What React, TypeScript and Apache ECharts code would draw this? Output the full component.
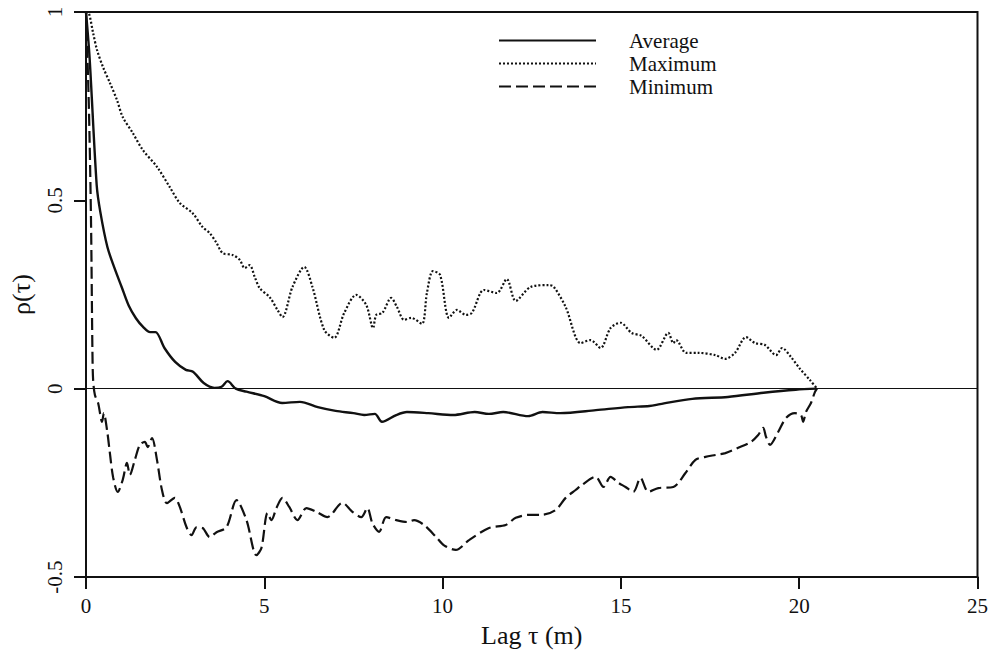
import React, { useEffect, useRef } from "react";
import * as echarts from "echarts";

// Lag tau (m) and rho(tau) for each curve
const avgX = [0, 0.1, 0.3, 0.4, 0.6, 0.8, 1.0, 1.2, 1.4, 1.6, 1.8, 1.95, 2.2, 2.5, 2.8, 3.0, 3.3, 3.6, 3.8, 3.97, 4.2, 4.5, 5.0, 5.5, 6.0, 6.5, 7.0, 7.5, 7.8, 8.1, 8.3, 8.7, 9.0, 9.6, 10.3, 10.9, 11.3, 11.7, 12.4, 12.8, 13.3, 14.3, 15.2, 15.8, 16.1, 17.0, 18.0, 19.0, 19.9, 20.5];
const avgY = [1.0, 0.88, 0.54, 0.47, 0.376, 0.32, 0.27, 0.22, 0.187, 0.164, 0.15, 0.15, 0.108, 0.071, 0.05, 0.045, 0.015, 0.002, 0.005, 0.02, 0.0, -0.008, -0.02, -0.038, -0.035, -0.049, -0.059, -0.065, -0.07, -0.067, -0.088, -0.07, -0.062, -0.065, -0.07, -0.062, -0.067, -0.062, -0.073, -0.062, -0.065, -0.057, -0.049, -0.046, -0.041, -0.027, -0.022, -0.011, -0.003, 0.0];

const maxX = [0, 0.08, 0.2, 0.31, 0.48, 0.67, 0.87, 1.03, 1.31, 1.59, 1.99, 2.35, 2.63, 2.99, 3.27, 3.47, 3.66, 3.83, 4.11, 4.31, 4.45, 4.59, 4.73, 4.87, 5.15, 5.37, 5.51, 5.79, 6.12, 6.35, 6.68, 6.96, 7.24, 7.58, 7.86, 8.05, 8.14, 8.31, 8.56, 8.72, 8.92, 9.12, 9.42, 9.56, 9.73, 9.93, 10.18, 10.4, 10.65, 10.82, 11.16, 11.52, 11.8, 12.05, 12.47, 12.98, 13.12, 13.45, 13.87, 14.15, 14.43, 14.71, 14.99, 15.3, 15.58, 16.0, 16.33, 16.47, 16.55, 16.83, 17.17, 17.65, 17.92, 18.2, 18.51, 18.76, 19.04, 19.35, 19.52, 19.77, 20.02, 20.3, 20.5];
const maxY = [1.0, 0.997, 0.944, 0.899, 0.853, 0.812, 0.766, 0.721, 0.679, 0.634, 0.589, 0.535, 0.493, 0.466, 0.429, 0.413, 0.387, 0.36, 0.355, 0.342, 0.32, 0.328, 0.297, 0.267, 0.243, 0.209, 0.19, 0.27, 0.323, 0.27, 0.156, 0.135, 0.201, 0.249, 0.222, 0.161, 0.196, 0.201, 0.241, 0.217, 0.183, 0.188, 0.172, 0.254, 0.312, 0.302, 0.188, 0.209, 0.196, 0.201, 0.262, 0.254, 0.291, 0.233, 0.27, 0.275, 0.27, 0.217, 0.121, 0.129, 0.108, 0.161, 0.175, 0.148, 0.14, 0.103, 0.148, 0.121, 0.129, 0.095, 0.095, 0.089, 0.079, 0.095, 0.137, 0.121, 0.116, 0.089, 0.108, 0.084, 0.053, 0.023, 0.0];

const minX = [0, 0.08, 0.14, 0.18, 0.2, 0.25, 0.34, 0.45, 0.5, 0.59, 0.67, 0.76, 0.89, 1.03, 1.15, 1.23, 1.37, 1.51, 1.65, 1.73, 1.85, 1.99, 2.13, 2.27, 2.49, 2.63, 2.82, 2.96, 3.1, 3.27, 3.47, 3.66, 3.94, 4.22, 4.5, 4.78, 4.92, 5.09, 5.2, 5.34, 5.51, 5.7, 5.93, 6.18, 6.46, 6.77, 7.19, 7.47, 7.72, 7.89, 8.03, 8.22, 8.42, 8.7, 9.0, 9.2, 9.48, 9.82, 10.04, 10.37, 10.74, 11.3, 11.77, 12.05, 12.42, 12.78, 13.17, 13.45, 13.73, 13.9, 14.29, 14.51, 14.71, 14.93, 15.13, 15.35, 15.55, 15.77, 16.05, 16.47, 16.81, 17.09, 17.37, 17.65, 17.93, 18.29, 18.65, 18.85, 18.99, 19.07, 19.18, 19.41, 19.63, 19.88, 20.05, 20.11, 20.19, 20.33, 20.44, 20.5];
const minY = [1.0, 0.75, 0.45, 0.1, 0.023, -0.017, -0.038, -0.088, -0.065, -0.11, -0.171, -0.235, -0.274, -0.242, -0.197, -0.229, -0.189, -0.149, -0.141, -0.155, -0.131, -0.189, -0.269, -0.304, -0.29, -0.314, -0.368, -0.389, -0.368, -0.37, -0.394, -0.381, -0.368, -0.296, -0.349, -0.442, -0.423, -0.33, -0.349, -0.317, -0.29, -0.314, -0.349, -0.317, -0.327, -0.341, -0.303, -0.327, -0.341, -0.317, -0.357, -0.38, -0.341, -0.349, -0.354, -0.349, -0.362, -0.394, -0.416, -0.428, -0.402, -0.37, -0.362, -0.343, -0.335, -0.335, -0.322, -0.29, -0.269, -0.256, -0.234, -0.261, -0.234, -0.25, -0.261, -0.274, -0.237, -0.274, -0.264, -0.261, -0.224, -0.189, -0.181, -0.176, -0.171, -0.157, -0.141, -0.123, -0.104, -0.128, -0.149, -0.115, -0.078, -0.065, -0.07, -0.088, -0.062, -0.038, -0.009, 0.0];

const seriesNames = ["Average", "Maximum", "Minimum"];
const xTicks = { min: 0, max: 25, interval: 5 };
const yTicks = { min: -0.5, max: 1, interval: 0.5 };

const zip = (xs: number[], ys: number[]) => xs.map((x, i) => [x, ys[i]]);

const FONT = "Liberation Serif";
const INK = "#111";

export default function App() {
  const ref = useRef<HTMLDivElement>(null);
  useEffect(() => {
    if (!ref.current) return;
    const chart = echarts.init(ref.current, undefined, { renderer: "svg" });
    chart.setOption({
      animation: false,
      backgroundColor: "#fff",
      textStyle: { fontFamily: FONT, color: INK },
      grid: {
        left: 86,
        right: 11,
        top: 12,
        bottom: 77,
        show: true,
        borderColor: INK,
        borderWidth: 2,
        backgroundColor: "transparent",
      },
      legend: {
        orient: "vertical",
        left: 493,
        top: 25,
        itemWidth: 97,
        itemHeight: 14,
        itemGap: 2,
        data: seriesNames,
        itemStyle: { opacity: 0 },
        textStyle: {
          fontFamily: FONT,
          fontSize: 21,
          color: INK,
          padding: [0, 0, 0, 28],
        },
      },
      xAxis: {
        type: "value",
        min: xTicks.min,
        max: xTicks.max,
        interval: xTicks.interval,
        name: "Lag τ (m)",
        nameLocation: "middle",
        nameGap: 45,
        nameTextStyle: { fontFamily: FONT, fontSize: 26, color: INK },
        axisLine: { show: true, onZero: false, lineStyle: { color: INK, width: 2 } },
        axisTick: { show: true, inside: false, length: 12, lineStyle: { color: INK, width: 2 } },
        axisLabel: { fontFamily: FONT, fontSize: 21, color: INK, margin: 18 },
        splitLine: { show: false },
      },
      yAxis: {
        type: "value",
        min: yTicks.min,
        max: yTicks.max,
        interval: yTicks.interval,
        name: "ρ(τ)",
        nameLocation: "middle",
        nameRotate: 90,
        nameGap: 52,
        nameTextStyle: { fontFamily: FONT, fontSize: 26, color: INK },
        axisLine: { show: true, onZero: false, lineStyle: { color: INK, width: 2 } },
        axisTick: { show: true, inside: false, length: 12, lineStyle: { color: INK, width: 2 } },
        axisLabel: { fontFamily: FONT, fontSize: 21, color: INK, margin: 21, rotate: 90 },
        splitLine: { show: false },
      },
      series: [
        {
          name: seriesNames[0],
          type: "line",
          data: zip(avgX, avgY),
          symbol: "none",
          smooth: 0.3,
          lineStyle: { color: INK, width: 2.4, type: "solid" },
          itemStyle: { color: INK },
          markLine: {
            silent: true,
            symbol: ["none", "none"],
            label: { show: false },
            lineStyle: { color: INK, width: 1.2, type: "solid" },
            data: [{ yAxis: 0 }],
          },
        },
        {
          name: seriesNames[1],
          type: "line",
          data: zip(maxX, maxY),
          symbol: "none",
          smooth: 0.3,
          lineStyle: { color: INK, width: 2.2, type: [2, 2] },
          itemStyle: { color: INK },
        },
        {
          name: seriesNames[2],
          type: "line",
          data: zip(minX, minY),
          symbol: "none",
          smooth: 0.3,
          lineStyle: { color: INK, width: 2.2, type: [12, 5] },
          itemStyle: { color: INK },
        },
      ],
    });
    return () => chart.dispose();
  }, []);
  return (
    <div
      ref={ref}
      style={{ position: "fixed", left: 0, top: 0, width: 991, height: 654, background: "#fff" }}
    />
  );
}
